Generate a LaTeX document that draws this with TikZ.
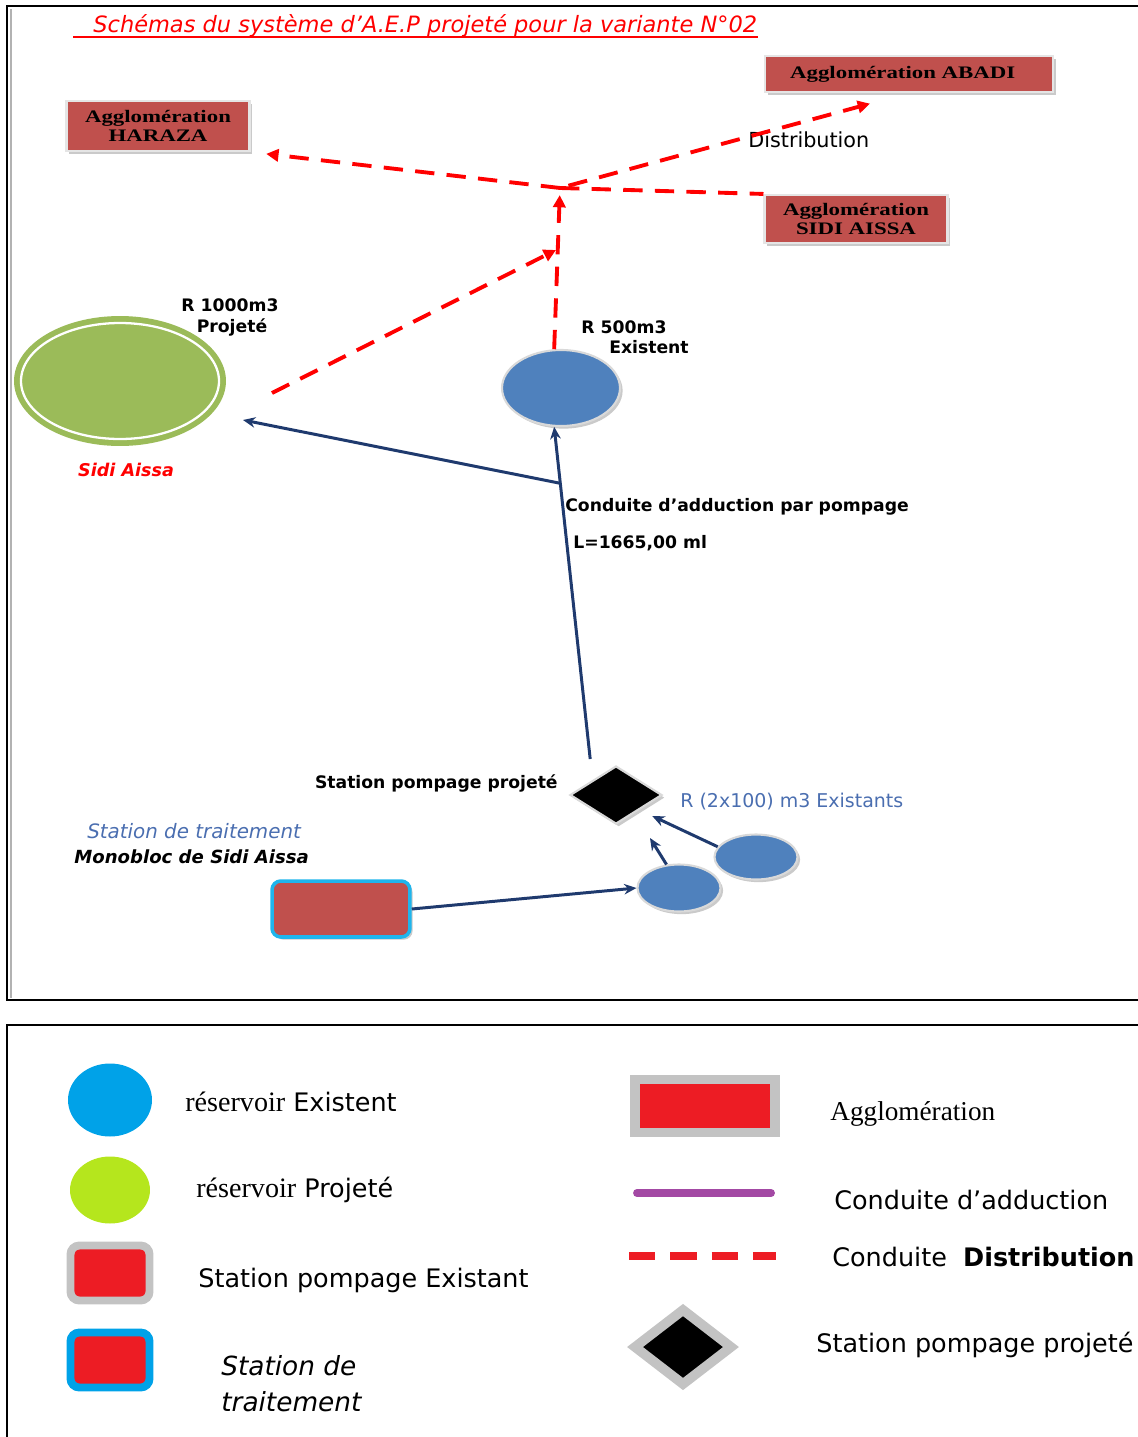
\documentclass[tikz,border=0pt]{standalone}
\usepackage{fontspec}
\setmainfont{DejaVu Sans}
\newfontfamily\aggfont[FakeStretch=1.3]{Liberation Serif}
\newfontfamily\timesfont{Liberation Serif}
\usetikzlibrary{shapes.geometric,shadows,arrows.meta,calc}
\definecolor{aggred}{HTML}{C0504D}
\definecolor{tankblue}{HTML}{4F81BD}
\definecolor{projgreen}{HTML}{9BBB59}
\definecolor{navy}{HTML}{1F3A6E}
\definecolor{pipered}{HTML}{FF0000}
\definecolor{labelblue}{HTML}{4A6EB0}
\definecolor{legblue}{HTML}{00A2E8}
\definecolor{leggreen}{HTML}{B5E61D}
\definecolor{legred}{HTML}{ED1C24}
\definecolor{leggray}{HTML}{C3C3C3}
\definecolor{legpurple}{HTML}{A349A4}
\definecolor{cyanrim}{HTML}{1FB5EC}
\begin{document}
\begin{tikzpicture}[x=0.02cm,y=-0.02cm,
  softshadow/.style={drop shadow={shadow xshift=1.5pt,shadow yshift=-1.5pt,fill=black!35,opacity=0.6}},
  aggbox/.style={rectangle, fill=aggred, draw=white!90!black, line width=1.2pt, inner sep=0pt,
    align=center, font=\aggfont\bfseries\fontsize{10}{10.5}\selectfont, softshadow},
  tank/.style={ellipse, fill=tankblue, draw=white!85!black, line width=1.2pt, inner sep=0pt, softshadow},
  dist/.style={draw=pipered, line width=2.2pt, dash pattern=on 11pt off 7pt},
  disttip/.style={-{Triangle[length=7pt,width=7pt]}},
  adduc/.style={draw=navy, line width=1.7pt, -{Stealth[length=7pt,width=6pt]}},
  lbl/.style={font=\bfseries\fontsize{9.8}{11}\selectfont, inner sep=0pt},
  legtxt/.style={font=\fontsize{14.5}{17}\selectfont, anchor=west, inner sep=0pt},
  legbox/.style={rectangle, rounded corners=5pt, fill=legred, line width=4.5pt,
    minimum width=1.58cm, minimum height=1.1cm, inner sep=0pt},
]
\useasboundingbox (0,0) rectangle (1137,1437);

% frames of the scheme and of the legend
\draw[black!30, line width=1pt] (11,9) -- (11,998);
\draw[line width=1.2pt] (7,6) rectangle (1160,1000);
\draw[line width=1.2pt] (7,1025) rectangle (1160,1460);

% title, underlined in red
\node[anchor=base west, inner sep=0pt, text=pipered, font=\itshape\fontsize{12.8}{14}\selectfont]
  (title) at (93,32) {Schémas du système d'A.E.P projeté pour la variante N°02};
\coordinate (ul) at (73,37);
\draw[pipered, line width=0.9pt] (ul) -- (ul -| title.east);

% agglomerations
\node[aggbox, minimum width=3.66cm, minimum height=1cm] (haraza) at (158,126) {Agglomération\\HARAZA};
\node[aggbox, minimum width=5.76cm, minimum height=0.72cm] (abadi) at (909,74) {Agglomération ABADI\hspace{0.25cm}};
\node[aggbox, minimum width=3.66cm, minimum height=0.96cm] (sidi) at (856,219) {Agglomération\\SIDI AISSA};

% reservoirs, pumping station, treatment plant
\node[ellipse, fill=projgreen, inner sep=0pt, minimum width=4.24cm, minimum height=2.6cm] (r1000) at (120,381) {};
\draw[white, line width=1.3pt] (r1000.center) ellipse [x radius=99, y radius=58];
\node[tank, minimum width=2.36cm, minimum height=1.52cm] (r500) at (561,388) {};
\node[tank, minimum width=1.66cm, minimum height=0.9cm] (tank2) at (756,857) {};
\node[tank, minimum width=1.66cm, minimum height=0.94cm] (tank1) at (679,888) {};
\node[diamond, fill=black, draw=white!85!black, line width=1.2pt, inner sep=0pt,
  minimum width=1.84cm, minimum height=1.16cm, softshadow] (sp) at (616,795) {};
\node[rectangle, rounded corners=5pt, fill=aggred, draw=cyanrim, line width=2pt, inner sep=0pt,
  minimum width=2.76cm, minimum height=1.12cm, softshadow] (treat) at (341,909) {};

% labels
\node[lbl] (l1000a) at (230,305) {R 1000m3};
\node[lbl] (l1000b) at (232,327) {Projeté};
\node[lbl] (l500a) at (624,327) {R 500m3};
\node[lbl] (l500b) at (649,347) {Existent};
\node[inner sep=0pt, text=pipered, font=\bfseries\itshape\fontsize{10}{12}\selectfont] (sidiaissa) at (126,470) {Sidi Aissa};
\node[lbl, anchor=west] (cond) at (565,507) {Conduite d'adduction par pompage};
\node[lbl, anchor=west] (len) at (573,543) {L=1665,00 ml};
\node[lbl, anchor=east] (splbl) at (558,783) {Station pompage projeté};
\node[anchor=west, inner sep=0pt, text=labelblue, font=\fontsize{10.8}{12}\selectfont] (r2x100) at (680,802) {R (2x100) m3 Existants};
\node[anchor=west, inner sep=0pt, text=labelblue, font=\itshape\fontsize{11.3}{13}\selectfont] (stlbl) at (87,831) {Station de traitement};
\node[anchor=west, inner sep=0pt, font=\bfseries\itshape\fontsize{10.3}{12}\selectfont] (mono) at (74,857) {Monobloc de Sidi Aissa};
\node[anchor=west, inner sep=0pt, font=\fontsize{11.8}{13}\selectfont] (distlbl) at (748,140) {Distribution};

% distribution network
\coordinate (hub) at (560,188);
\coordinate (d1s) at (272,393);
\coordinate (d1e) at (556,250);
\draw[dist] (hub) -- (sidi.north west);
\draw[dist, disttip, shorten >=9pt] (hub) -- (haraza.south east);
\draw[dist, disttip, shorten <=5pt, shorten >=23pt] (hub) -- (abadi.south);
\draw[dist, disttip, shorten >=4pt] (r500.100) -- (hub);
\draw[dist, disttip] (d1s) -- (d1e);

% adduction mains
\coordinate (a1) at (650,838);
\coordinate (a2) at (243,420);
\draw[adduc] (treat.east) -- (tank1.west);
\draw[adduc] (tank1.118) -- (a1);
\draw[adduc, shorten >=8pt] (tank2.165) -- (sp.south east);
\draw[adduc, shorten <=12pt] (sp.north west) -- (r500.260);
\coordinate (br) at ($(sp.north west)!0.84!(r500.260)$);
\draw[adduc] (br) -- (a2);

% legend
\node[ellipse, fill=legblue, inner sep=0pt, minimum width=1.68cm, minimum height=1.46cm] (lgb) at (110,1100) {};
\node[ellipse, fill=leggreen, inner sep=0pt, minimum width=1.6cm, minimum height=1.34cm] (lgg) at (110,1190) {};
\node[legbox, draw=leggray] (lgsp) at (110,1273) {};
\node[legbox, draw=legblue] (lgst) at (110,1360) {};
\node[rectangle, fill=legred, draw=leggray, line width=5.6pt, inner sep=0pt,
  minimum width=2.8cm, minimum height=1.06cm] (lgagg) at (705,1106) {};
\coordinate (lpa) at (637,1193);
\coordinate (lpb) at (771,1193);
\draw[legpurple, line width=4.5pt, line cap=round] (lpa) -- (lpb);
\coordinate (lda) at (629,1256);
\coordinate (ldb) at (776,1256);
\draw[legred, line width=4.5pt, dash pattern=on 15pt off 8.5pt] (lda) -- (ldb);
\node[diamond, fill=black, draw=leggray, line width=5.5pt, inner sep=0pt,
  minimum width=2cm, minimum height=1.56cm] (lgd) at (683,1347) {};

\node[legtxt] (t1) at (185,1102) {{\timesfont\fontsize{16}{18}\selectfont réservoir} Existent};
\node[legtxt] (t2) at (196,1190) {{\timesfont\fontsize{16}{18}\selectfont réservoir} Projeté};
\node[legtxt] (t3) at (198,1280) {Station pompage Existant};
\node[legtxt, font=\itshape\fontsize{15}{20.5}\selectfont, align=left] (t4) at (221,1384) {Station de\\traitement};
\node[legtxt, font=\timesfont\fontsize{15.5}{18}\selectfont] (t5) at (830,1114) {Agglomération};
\node[legtxt] (t6) at (834,1200) {Conduite d'adduction};
\node[legtxt] (t7) at (832,1257) {Conduite\ \ \textbf{Distribution}};
\node[legtxt] (t8) at (816,1345) {Station pompage projeté};
\end{tikzpicture}
\end{document}
